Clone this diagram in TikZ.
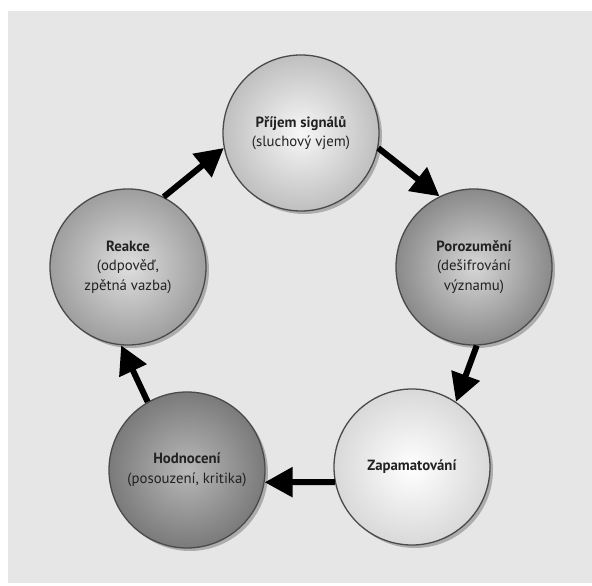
\documentclass[tikz,border=0pt]{standalone}
\usepackage{fontspec}
\setmainfont{PT Sans}
\usetikzlibrary{arrows.meta,shadows}

\definecolor{panel}{HTML}{E6E6E6}
\definecolor{rim}{HTML}{4A4A4A}
\definecolor{ink}{HTML}{222222}

\tikzset{
  stage/.style={circle, minimum size=156pt, inner sep=0pt, draw=rim, line width=1.3pt,
    align=center, text=ink, font=\fontsize{14.8}{19.5}\selectfont,
    drop shadow={shadow xshift=3pt, shadow yshift=-3pt, opacity=0.25, fill=black}},
  flow/.style={line width=6pt, -{Triangle[length=28pt, width=29pt]}, black},
}

\begin{document}
\begin{tikzpicture}[x=1pt, y=1pt]
  % page and grey panel
  \fill[white] (0,0) rectangle (592,586);
  \useasboundingbox (0,0) rectangle (592,586);
  \fill[panel] (8,3) rectangle (592,575);

  % the five stages of the cycle
  \node[stage, inner color=white!97!black, outer color=white!75!black] (prijem) at (301,453)
    {\textbf{Příjem signálů}\\(sluchový vjem)};
  \node[stage, inner color=white!84!black, outer color=white!54!black] (porozumeni) at (474,319)
    {\textbf{Porozumění}\\(dešifrování\\významu)};
  \node[stage, inner color=white, outer color=white!85!black] (zapamatovani) at (412,119)
    {\textbf{Zapamatování}};
  \node[stage, inner color=white!72!black, outer color=white!48!black] (hodnoceni) at (187,116)
    {\textbf{Hodnocení}\\(posouzení, kritika)};
  \node[stage, inner color=white!87!black, outer color=white!62!black] (reakce) at (128,319)
    {\textbf{Reakce}\\(odpověď,\\zpětná vazba)};

  % arrows between consecutive stages
  \draw[flow] (prijem.-11.6) -- (porozumeni.116);
  \draw[flow] (porozumeni.-88) -- (zapamatovani.56.5);
  \draw[flow] (zapamatovani.191.6) -- (hodnoceni.-9);
  \draw[flow] (hodnoceni.120.7) -- (reakce.-95);
  \draw[flow] (reakce.63.7) -- (prijem.191.6);
\end{tikzpicture}
\end{document}
